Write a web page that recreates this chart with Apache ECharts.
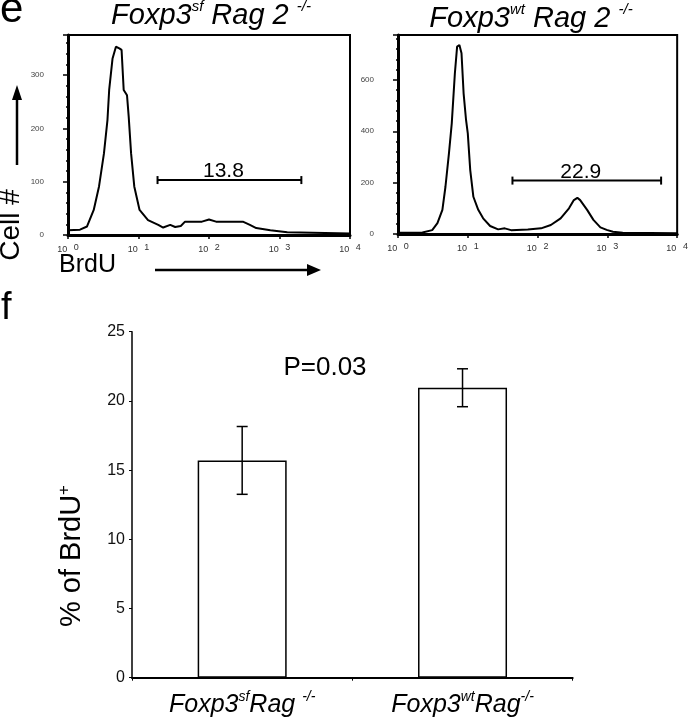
<!DOCTYPE html>
<html>
<head>
<meta charset="utf-8">
<script src="https://cdn.jsdelivr.net/npm/echarts@6/dist/echarts.min.js"></script>
<style>
html,body{margin:0;padding:0;background:#fff;}
#c{width:691px;height:720px;}
</style>
</head>
<body>
<div id="c"></div>
<script>
// ---- Panel e: BrdU histograms (x = log10 BrdU intensity, y = cell count) ----
const sfLog   = [0.00, 0.17, 0.27, 0.365, 0.44, 0.51, 0.56, 0.584, 0.632, 0.68, 0.728, 0.76, 0.79, 0.837, 0.861, 0.895, 0.94, 1.015, 1.135, 1.28, 1.35, 1.45, 1.52, 1.60, 1.66, 1.90, 2.00, 2.10, 2.48, 2.58, 2.67, 2.87, 3.11, 4.00];
const sfCount = [9,    10,   16,   47,    91,   153,  216,  272,   331,   353,  350,   347,  272,  262,   222,   153,   91,   47,    28,    19,   14,   19,   15,   17,   25,   25,   29,   25,   25,   19,   13,   9,    5,    3];

const wtLog   = [0.00, 0.35, 0.49, 0.565, 0.636, 0.68, 0.73, 0.77, 0.815, 0.847, 0.88, 0.91, 0.94, 0.975, 1.00, 1.035, 1.08, 1.15, 1.22, 1.32, 1.435, 1.53, 1.62, 1.86, 2.05, 2.19, 2.33, 2.45, 2.52, 2.57, 2.61, 2.71, 2.80, 2.90, 2.99, 3.08, 3.22, 4.00];
const wtCount = [5,    6,    15,   42,    94,    184,  314,  430,  626,   730,   736,  704,  548,  444,   392,  249,   145,  94,   61,   31,   18,    22,   15,   18,   22,   35,   61,   100,  132,  141,  132,  94,   55,   26,   16,   9,    5,    3];

// gates: [start log10, end log10, count level, label]
const sfGate = [1.27, 3.31, 103, '13.8'];
const wtGate = [1.64, 3.77, 208, '22.9'];

// ---- Panel f: bar chart ----
const groups   = ['sf', 'wt'];
const barMeans = [15.7, 20.95];
const barErrs  = [2.45, 1.37];

const FONT = 'Liberation Sans, Arial, sans-serif';

const chart = echarts.init(document.getElementById('c'), null, {renderer: 'canvas'});

function histX(gridIndex) {
  return {
    type: 'value', gridIndex: gridIndex, min: 0, max: 4, interval: 1,
    axisLine: {show: true, lineStyle: {color: '#000', width: 3}},
    axisTick: {show: true, inside: false, length: 4, lineStyle: {color: '#000', width: 1.5}},
    minorTick: {show: true, splitNumber: 9, length: 2, lineStyle: {color: '#000', width: 1}},
    splitLine: {show: false},
    axisLabel: {
      margin: 8, color: '#333', fontFamily: FONT,
      formatter: v => '{b|10}  {s|' + v + '}',
      rich: {
        b: {fontSize: 9, lineHeight: 14, fontFamily: FONT, color: '#333'},
        s: {fontSize: 9, lineHeight: 6, verticalAlign: 'top', fontFamily: FONT, color: '#333'}
      }
    }
  };
}
function histY(gridIndex, max, interval) {
  return {
    type: 'value', gridIndex: gridIndex, min: 0, max: max, interval: interval,
    axisLine: {show: true, lineStyle: {color: '#000', width: 3}},
    axisTick: {show: true, inside: false, length: 5, lineStyle: {color: '#000', width: 1.5}},
    minorTick: {show: true, splitNumber: 5, length: 2, lineStyle: {color: '#000', width: 1.5}},
    splitLine: {show: false},
    axisLabel: {margin: 24, fontSize: 8, color: '#444', fontFamily: FONT, showMaxLabel: false}
  };
}

function gateRender(params, api) {
  const p1 = api.coord([api.value(0), api.value(2)]);
  const p2 = api.coord([api.value(1), api.value(2)]);
  return {
    type: 'group',
    children: [
      {type: 'line', shape: {x1: p1[0], y1: p1[1], x2: p2[0], y2: p2[1]}, style: {stroke: '#000', lineWidth: 2}},
      {type: 'line', shape: {x1: p1[0], y1: p1[1] - 4, x2: p1[0], y2: p1[1] + 4}, style: {stroke: '#000', lineWidth: 2}},
      {type: 'line', shape: {x1: p2[0], y1: p2[1] - 4, x2: p2[0], y2: p2[1] + 4}, style: {stroke: '#000', lineWidth: 2}},
      {type: 'text', x: (p1[0] + p2[0]) / 2 - 6, y: p1[1] + 2,
        style: {text: api.value(3), fontSize: 21, fontFamily: FONT, fill: '#000', align: 'center', verticalAlign: 'bottom'}}
    ]
  };
}

function errRender(params, api) {
  const top = api.coord([api.value(0), api.value(2)]);
  const bot = api.coord([api.value(0), api.value(1)]);
  const hw = 5.5;
  const st = {stroke: '#000', lineWidth: 1.5};
  return {
    type: 'group',
    children: [
      {type: 'line', shape: {x1: top[0], y1: top[1], x2: bot[0], y2: bot[1]}, style: st},
      {type: 'line', shape: {x1: top[0] - hw, y1: top[1], x2: top[0] + hw, y2: top[1]}, style: st},
      {type: 'line', shape: {x1: bot[0] - hw, y1: bot[1], x2: bot[0] + hw, y2: bot[1]}, style: st}
    ]
  };
}

const catRich = {
  i: {fontSize: 25, lineHeight: 30, fontStyle: 'italic', fontFamily: FONT, color: '#000'},
  s: {fontSize: 14, lineHeight: 26, verticalAlign: 'top', fontStyle: 'italic', fontFamily: FONT, color: '#000'}
};
const catText = {
  sf: '{i|Foxp3}{s|sf}{i|Rag }{s|-/-}',
  wt: '{i|Foxp3}{s|wt}{i|Rag}{s|-/-}'
};

const titleRich = {
  i: {fontSize: 29, lineHeight: 34, fontStyle: 'italic', fontFamily: FONT, fill: '#000'},
  s: {fontSize: 15, lineHeight: 30, verticalAlign: 'top', fontStyle: 'italic', fontFamily: FONT, fill: '#000'}
};

const option = {
  backgroundColor: '#fff',
  animation: false,
  grid: [
    {left: 68, top: 35, width: 282, height: 200, show: true, borderColor: '#000', borderWidth: 2, backgroundColor: 'transparent'},
    {left: 398, top: 35, width: 285, height: 199, show: true, borderColor: '#000', borderWidth: 2, backgroundColor: 'transparent'},
    {left: 132, top: 331.7, width: 440.7, height: 346}
  ],
  xAxis: [
    histX(0),
    histX(1),
    {
      type: 'category', gridIndex: 2, data: groups,
      axisLine: {show: true, lineStyle: {color: '#000', width: 2}},
      axisTick: {show: true, alignWithLabel: false, length: 3, lineStyle: {color: '#000', width: 1}},
      axisLabel: {margin: 12, formatter: v => catText[v], rich: catRich}
    }
  ],
  yAxis: [
    histY(0, 375, 100),
    histY(1, 775, 200),
    {
      type: 'value', gridIndex: 2, min: 0, max: 25, interval: 5,
      axisLine: {show: true, lineStyle: {color: '#000', width: 1.5}},
      axisTick: {show: true, length: 3, lineStyle: {color: '#000', width: 1}},
      splitLine: {show: false},
      axisLabel: {margin: 7, fontSize: 16, color: '#111', fontFamily: FONT}
    }
  ],
  series: [
    {type: 'line', xAxisIndex: 0, yAxisIndex: 0, data: sfLog.map((v, i) => [v, sfCount[i]]),
      showSymbol: false, symbol: 'none', lineStyle: {color: '#000', width: 2}, z: 3},
    {type: 'line', xAxisIndex: 1, yAxisIndex: 1, data: wtLog.map((v, i) => [v, wtCount[i]]),
      showSymbol: false, symbol: 'none', lineStyle: {color: '#000', width: 2}, z: 3},
    {type: 'custom', xAxisIndex: 0, yAxisIndex: 0, data: [sfGate], renderItem: gateRender, z: 4},
    {type: 'custom', xAxisIndex: 1, yAxisIndex: 1, data: [wtGate], renderItem: gateRender, z: 4},
    {type: 'bar', xAxisIndex: 2, yAxisIndex: 2, data: barMeans, barWidth: 89,
      itemStyle: {color: '#fff', borderColor: '#000', borderWidth: 1.5}, z: 2},
    {type: 'custom', xAxisIndex: 2, yAxisIndex: 2,
      data: barMeans.map((m, i) => [i, m - barErrs[i], m + barErrs[i]]),
      renderItem: errRender, z: 5}
  ],
  graphic: [
    {type: 'text', x: 0, y: 10, style: {text: 'e', fontSize: 42, fontFamily: FONT, fill: '#000', align: 'left', verticalAlign: 'middle'}},
    {type: 'text', x: 1, y: 309, style: {text: 'f', fontSize: 38, fontFamily: FONT, fill: '#000', align: 'left', verticalAlign: 'middle'}},
    {type: 'text', x: 211, y: 16, style: {text: '{i|Foxp3}{s|sf}{i| Rag 2 }{s|-/-}', rich: titleRich, align: 'center', verticalAlign: 'middle'}},
    {type: 'text', x: 531, y: 19, style: {text: '{i|Foxp3}{s|wt}{i| Rag 2 }{s|-/-}', rich: titleRich, align: 'center', verticalAlign: 'middle'}},
    {type: 'text', x: 11, y: 225, rotation: Math.PI / 2, style: {text: 'Cell #', fontSize: 28, fontFamily: FONT, fill: '#000', align: 'center', verticalAlign: 'middle'}},
    {type: 'text', x: 59, y: 265, style: {text: 'BrdU', fontSize: 25, fontFamily: FONT, fill: '#000', align: 'left', verticalAlign: 'middle'}},
    // vertical arrow
    {type: 'line', shape: {x1: 17, y1: 165, x2: 17, y2: 98}, style: {stroke: '#000', lineWidth: 2.5}},
    {type: 'polygon', shape: {points: [[17, 85], [12, 100], [22, 100]]}, style: {fill: '#000'}},
    // horizontal arrow
    {type: 'line', shape: {x1: 155, y1: 270, x2: 309, y2: 270}, style: {stroke: '#000', lineWidth: 2.5}},
    {type: 'polygon', shape: {points: [[321, 270], [307, 264], [307, 276]]}, style: {fill: '#000'}},
    // panel f texts
    {type: 'text', x: 72, y: 556, rotation: Math.PI / 2,
      style: {text: '{a|% of BrdU}{s|+}', align: 'center', verticalAlign: 'middle',
        rich: {a: {fontSize: 29, lineHeight: 32, fontFamily: FONT, fill: '#000'},
               s: {fontSize: 17, lineHeight: 24, verticalAlign: 'top', fontFamily: FONT, fill: '#000'}}}},
    {type: 'text', x: 325, y: 368, style: {text: 'P=0.03', fontSize: 26, fontFamily: FONT, fill: '#000', align: 'center', verticalAlign: 'middle'}}
  ]
};
chart.setOption(option);
</script>
</body>
</html>
